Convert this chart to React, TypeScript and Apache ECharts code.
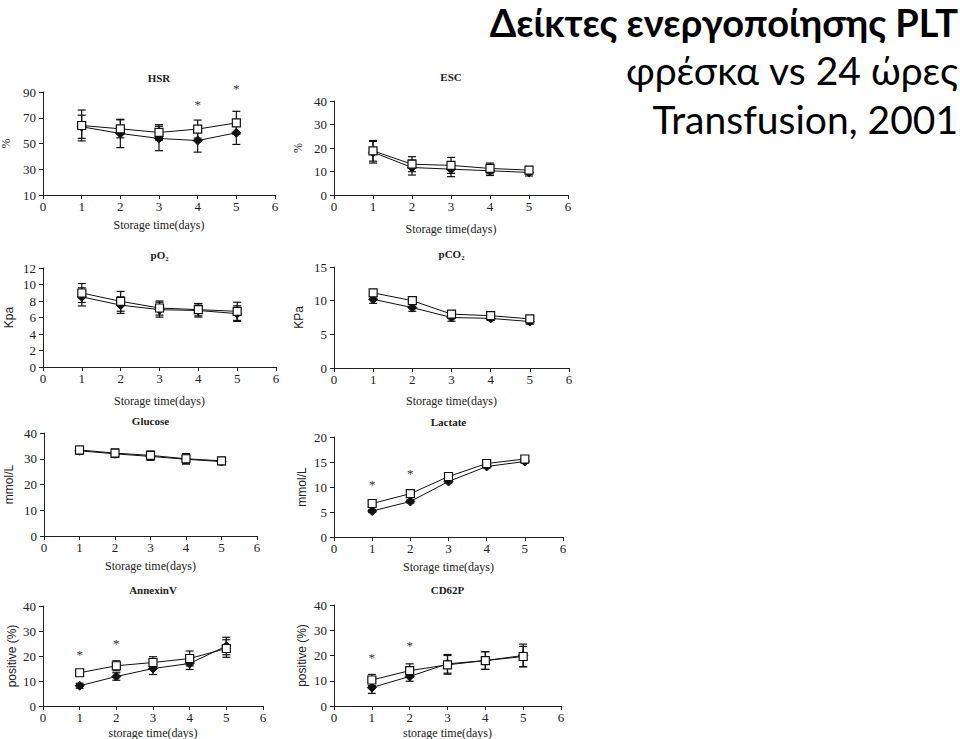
import { useEffect, useRef } from "react";
import * as echarts from "echarts";

// ---------- data ----------
const days = [1, 2, 3, 4, 5];

const hsrOpen = [64, 61.4, 58.6, 61.2, 66];
const hsrOpenErr = [12, 7, 6, 7, 9];
const hsrFilled = [63, 57.8, 53.9, 52.3, 58.3];
const hsrFilledErr = [9, 11, 9.5, 9, 9];
const hsrStars = [[4, 83], [5, 95]];

const escOpen = [18.8, 13.1, 12.6, 11.3, 10.6];
const escOpenErr = [4.4, 3.2, 3.4, 2.3, 1.5];
const escFilled = [18.2, 11.7, 11, 10.3, 9.6];
const escFilledErr = [4.6, 3.2, 3.2, 2, 1.5];

const po2Open = [8.97, 7.96, 7.15, 6.95, 6.75];
const po2OpenErr = [1.15, 1.2, 0.85, 0.75, 1.1];
const po2Filled = [8.5, 7.5, 6.95, 6.85, 6.47];
const po2FilledErr = [1.1, 1.0, 0.9, 0.8, 0.95];

const pco2Open = [11.16, 10.0, 8.0, 7.77, 7.3];
const pco2OpenErr = [0.5, 0.45, 0.25, 0.45, 0.4];
const pco2Filled = [10.2, 8.97, 7.5, 7.37, 6.9];
const pco2FilledErr = [0.6, 0.55, 0.55, 0.3, 0.4];

const glucoseOpen = [33.4, 32.2, 31.3, 30.0, 29.2];
const glucoseOpenErr = [1.5, 1.6, 1.7, 2.0, 1.4];
const glucoseFilled = [33.1, 31.9, 30.9, 29.8, 28.9];
const glucoseFilledErr = [1.3, 1.4, 1.5, 1.8, 1.2];

const lactateOpen = [6.7, 8.66, 12.1, 14.7, 15.6];
const lactateOpenErr = [0.3, 0.4, 0.3, 0.3, 0.3];
const lactateFilled = [5.2, 7.1, 11.1, 14.1, 15.1];
const lactateFilledErr = [0.3, 0.3, 0.3, 0.3, 0.3];
const lactateStars = [[1, 11.1], [2, 13.4]];

const annexinOpen = [13.3, 16.1, 17.4, 19, 23];
const annexinOpenErr = [1.3, 2, 2.3, 3, 3.5];
const annexinFilled = [8.1, 11.8, 15, 17, 24];
const annexinFilledErr = [1, 1.5, 2.4, 2.4, 3.5];
const annexinStars = [[1, 22], [2, 26.3]];

const cd62pOpen = [10.3, 14, 16.3, 18, 19.6];
const cd62pOpenErr = [2.2, 2.7, 3.7, 3.5, 4];
const cd62pFilled = [7.3, 11.7, 16.7, 18, 20];
const cd62pFilledErr = [2.3, 1.9, 3.7, 3.5, 4.5];
const cd62pStars = [[1, 20.4], [2, 25.2]];

const hsrTicks = [10, 30, 50, 70, 90];

const headline = "Δείκτες ενεργοποίησης PLT";
const subline1 = "φρέσκα vs 24 ώρες";
const subline2 = "Transfusion, 2001";

// ---------- panel descriptions ----------
const panels = [
  { title: "HSR", yName: "%", xName: "Storage time(days)", open: hsrOpen, openErr: hsrOpenErr, filled: hsrFilled, filledErr: hsrFilledErr, stars: hsrStars, yMin: 10, yMax: 90, yTicks: hsrTicks, yInterval: 20,
    left: 43, top: 92, width: 232, height: 103, titleY: 78, xGap: 24, yGap: 31, serifY: true },
  { title: "ESC", yName: "%", xName: "Storage time(days)", open: escOpen, openErr: escOpenErr, filled: escFilled, filledErr: escFilledErr, stars: [], yMin: 0, yMax: 40, yInterval: 10,
    left: 334, top: 101, width: 234, height: 94, titleY: 77, xGap: 28, yGap: 30, serifY: true },
  { title: "pO₂", yName: "Kpa", xName: "Storage time(days)", open: po2Open, openErr: po2OpenErr, filled: po2Filled, filledErr: po2FilledErr, stars: [], yMin: 0, yMax: 12, yInterval: 2,
    left: 43, top: 268, width: 233, height: 99, titleY: 255, xGap: 28, yGap: 28, serifY: false },
  { title: "pCO₂", yName: "KPa", xName: "Storage time(days)", open: pco2Open, openErr: pco2OpenErr, filled: pco2Filled, filledErr: pco2FilledErr, stars: [], yMin: 0, yMax: 15, yInterval: 5,
    left: 334, top: 267, width: 235, height: 101, titleY: 254, xGap: 27, yGap: 29, serifY: false },
  { title: "Glucose", yName: "mmol/L", xName: "Storage time(days)", open: glucoseOpen, openErr: glucoseOpenErr, filled: glucoseFilled, filledErr: glucoseFilledErr, stars: [], yMin: 0, yMax: 40, yInterval: 10,
    left: 44, top: 433, width: 213, height: 103, titleY: 421, xGap: 24, yGap: 29, serifY: false },
  { title: "Lactate", yName: "mmol/L", xName: "Storage time(days)", open: lactateOpen, openErr: lactateOpenErr, filled: lactateFilled, filledErr: lactateFilledErr, stars: lactateStars, yMin: 0, yMax: 20, yInterval: 5,
    left: 334, top: 437, width: 229, height: 100, titleY: 422, xGap: 24, yGap: 26, serifY: false },
  { title: "AnnexinV", yName: "positive (%)", xName: "storage time(days)", open: annexinOpen, openErr: annexinOpenErr, filled: annexinFilled, filledErr: annexinFilledErr, stars: annexinStars, yMin: 0, yMax: 40, yInterval: 10,
    left: 43, top: 606, width: 220, height: 100, titleY: 590, xGap: 21, yGap: 25, serifY: false },
  { title: "CD62P", yName: "positive (%)", xName: "storage time(days)", open: cd62pOpen, openErr: cd62pOpenErr, filled: cd62pFilled, filledErr: cd62pFilledErr, stars: cd62pStars, yMin: 0, yMax: 40, yInterval: 10,
    left: 334, top: 605, width: 227, height: 101, titleY: 590, xGap: 21, yGap: 26, serifY: false },
];

const SERIF = "'Liberation Serif', 'DejaVu Serif', serif";
const SANS = "'Liberation Sans', Arial, sans-serif";

function errorBarRender(params: any, api: any) {
  const x = api.value(0);
  const lo = api.coord([x, api.value(1)]);
  const hi = api.coord([x, api.value(2)]);
  const w = 4;
  const style = { stroke: "#111", lineWidth: 1.2, fill: "none" };
  return {
    type: "group",
    children: [
      { type: "line", shape: { x1: lo[0], y1: lo[1], x2: hi[0], y2: hi[1] }, style },
      { type: "line", shape: { x1: lo[0] - w, y1: lo[1], x2: lo[0] + w, y2: lo[1] }, style },
      { type: "line", shape: { x1: hi[0] - w, y1: hi[1], x2: hi[0] + w, y2: hi[1] }, style },
    ],
  };
}

function starRender(params: any, api: any) {
  const p = api.coord([api.value(0), api.value(1)]);
  return {
    type: "text",
    x: p[0],
    y: p[1] + 3,
    style: { text: "*", fontSize: 13, fontFamily: SERIF, fill: "#333", align: "center", verticalAlign: "middle" },
  };
}

function buildOption() {
  const grid: any[] = [];
  const xAxis: any[] = [];
  const yAxis: any[] = [];
  const series: any[] = [];
  const graphic: any[] = [];

  panels.forEach((p, i) => {
    grid.push({ left: p.left, top: p.top, width: p.width, height: p.height, outerBoundsMode: "none", containLabel: false });
    xAxis.push({
      type: "value", gridIndex: i, min: 0, max: 6, interval: 1,
      name: p.xName, nameLocation: "middle", nameGap: p.xGap,
      nameTextStyle: { fontFamily: SERIF, fontSize: 12, color: "#222" },
      axisLine: { show: true, onZero: false, lineStyle: { color: "#222", width: 1 } },
      axisTick: { show: true, inside: false, length: 4, lineStyle: { color: "#222" } },
      axisLabel: { fontFamily: SERIF, fontSize: 13, color: "#222", margin: 5 },
      splitLine: { show: false },
    });
    const y: any = {
      type: "value", gridIndex: i, min: p.yMin, max: p.yMax,
      name: p.yName, nameLocation: "middle", nameGap: p.yGap, nameRotate: 90,
      nameTextStyle: { fontFamily: p.serifY ? SERIF : SANS, fontSize: 12, color: "#222" },
      axisLine: { show: true, onZero: false, lineStyle: { color: "#222", width: 1 } },
      axisTick: { show: true, inside: false, length: 4, lineStyle: { color: "#222" } },
      axisLabel: { fontFamily: SERIF, fontSize: 13, color: "#222", margin: 7 },
      splitLine: { show: false },
    };
    if (p.yTicks) {
      y.axisLabel.customValues = p.yTicks;
      y.axisTick.customValues = p.yTicks;
    } else {
      y.interval = p.yInterval;
    }
    yAxis.push(y);

    series.push({
      type: "custom", xAxisIndex: i, yAxisIndex: i, renderItem: errorBarRender, z: 1,
      encode: { x: 0, y: [1, 2] },
      data: days.map((d, k) => [d, p.filled[k] - p.filledErr[k], p.filled[k] + p.filledErr[k]]),
    });
    series.push({
      type: "custom", xAxisIndex: i, yAxisIndex: i, renderItem: errorBarRender, z: 1,
      encode: { x: 0, y: [1, 2] },
      data: days.map((d, k) => [d, p.open[k] - p.openErr[k], p.open[k] + p.openErr[k]]),
    });
    series.push({
      type: "line", xAxisIndex: i, yAxisIndex: i, z: 2,
      data: days.map((d, k) => [d, p.filled[k]]),
      symbol: "diamond", symbolSize: 9,
      itemStyle: { color: "#111", borderColor: "#111", borderWidth: 1 },
      lineStyle: { color: "#111", width: 1 },
    });
    series.push({
      type: "line", xAxisIndex: i, yAxisIndex: i, z: 3,
      data: days.map((d, k) => [d, p.open[k]]),
      symbol: "rect", symbolSize: 8,
      itemStyle: { color: "#fff", borderColor: "#111", borderWidth: 1.2 },
      lineStyle: { color: "#111", width: 1 },
    });
    if (p.stars.length) {
      series.push({
        type: "custom", xAxisIndex: i, yAxisIndex: i, renderItem: starRender, z: 4, clip: false,
        encode: { x: 0, y: 1 },
        data: p.stars,
      });
    }
    graphic.push({
      type: "text", x: p.left + p.width / 2, y: p.titleY,
      style: { text: p.title, fontFamily: SERIF, fontWeight: "bold", fontSize: 11, fill: "#222", align: "center", verticalAlign: "middle" },
    });
  });

  const headFont = "Lato, 'Open Sans', sans-serif";
  graphic.push(
    { type: "text", right: 2, top: 3, style: { text: headline, fontFamily: headFont, fontWeight: "bold", fontSize: 38, fill: "#000" } },
    { type: "text", right: 2, top: 50, style: { text: subline1, fontFamily: headFont, fontSize: 39, fill: "#000" } },
    { type: "text", right: 2, top: 99, style: { text: subline2, fontFamily: headFont, fontSize: 39, fill: "#000" } },
  );

  return {
    animation: false,
    backgroundColor: "#fff",
    grid, xAxis, yAxis, series, graphic,
  };
}

export default function App() {
  const ref = useRef<HTMLDivElement>(null);
  useEffect(() => {
    if (!ref.current) return;
    const chart = echarts.init(ref.current, undefined, { renderer: "svg" });
    chart.setOption(buildOption() as any);
    return () => chart.dispose();
  }, []);
  return (
    <div
      ref={ref}
      style={{ position: "fixed", left: 0, top: 0, width: 960, height: 739, background: "#fff" }}
    />
  );
}
